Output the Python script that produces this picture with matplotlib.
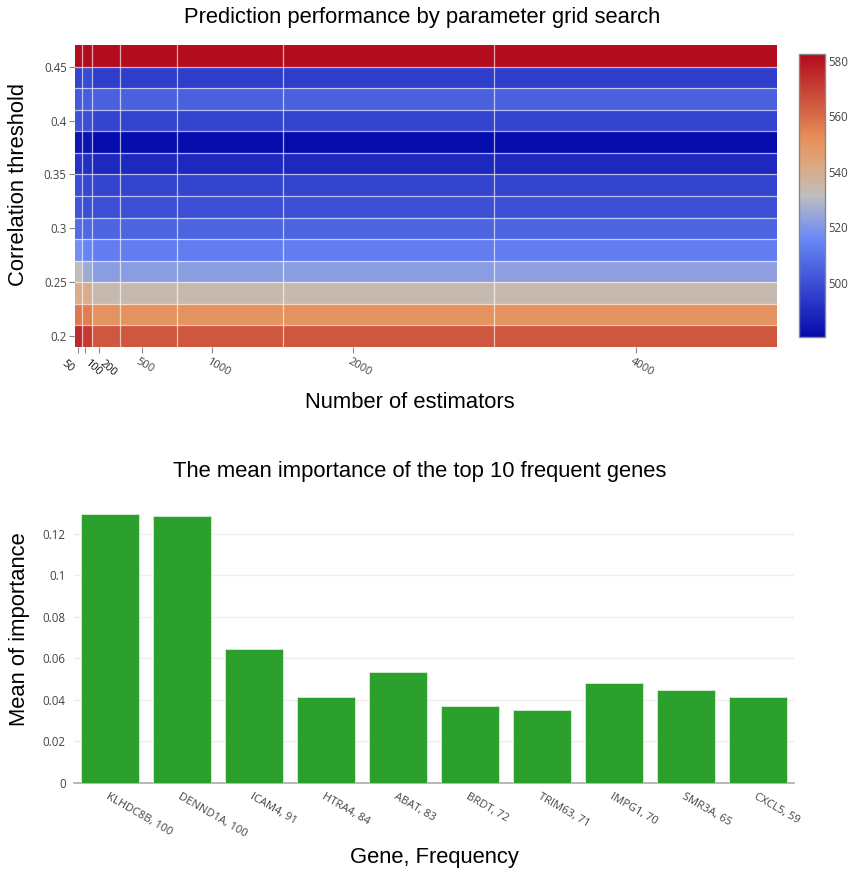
import matplotlib
matplotlib.use('Agg')
import matplotlib.pyplot as plt
from matplotlib.colors import LinearSegmentedColormap
import numpy as np

# grid search results: rows = correlation threshold, cols = number of estimators
n_estimators = [50, 100, 200, 500, 1000, 2000, 4000]
corr_threshold = [0.20, 0.22, 0.24, 0.26, 0.28, 0.30, 0.32,
                  0.34, 0.36, 0.38, 0.40, 0.42, 0.44, 0.46]
scores = [
    [575, 571, 565, 565, 565, 565, 565],
    [557, 556, 551, 551, 551, 551, 551],
    [541, 540, 534, 534, 534, 534, 534],
    [532, 526, 522, 522, 522, 522, 523],
    [518, 515, 513, 513, 513, 513, 513],
    [508, 507, 506, 506, 506, 506, 506],
    [502, 500, 500, 500, 500, 500, 500],
    [500, 498, 497, 497, 497, 497, 497],
    [492, 491, 489, 489, 489, 489, 489],
    [484, 483, 481, 481, 481, 481, 481],
    [501, 500, 497, 497, 497, 497, 497],
    [503, 504, 505, 505, 505, 505, 505],
    [497, 499, 495, 495, 495, 495, 495],
    [582, 582, 582, 582, 582, 582, 582],
]
cbar_ticks = [500, 520, 540, 560, 580]
# the three smallest estimator counts are crowded, label them separately
small_xticks = {50: 'right', 100: 'left', 200: 'left'}

# top 10 genes and their mean importance
genes = ['KLHDC8B, 100', 'DENND1A, 100', 'ICAM4, 91', 'HTRA4, 84', 'ABAT, 83',
         'BRDT, 72', 'TRIM63, 71', 'IMPG1, 70', 'SMR3A, 65', 'CXCL5, 59']
importance = [0.1298, 0.1286, 0.0647, 0.0415, 0.0536,
              0.0372, 0.0352, 0.0480, 0.0446, 0.0412]
imp_ticks = [0, 0.02, 0.04, 0.06, 0.08, 0.1, 0.12]

plt.rcParams['font.family'] = ['Liberation Sans', 'DejaVu Sans']

W, H = 853, 873
fig = plt.figure(figsize=(W / 100, H / 100), dpi=100)


def box(left, top, right, bottom):
    # pixel box -> figure fraction rect
    return [left / W, 1 - bottom / H, (right - left) / W, (bottom - top) / H]


def ftext(x, y, s, **kw):
    fig.text(x / W, 1 - y / H, s, ha='center', va='center', **kw)


def edges(v):
    v = np.asarray(v, dtype=float)
    mid = (v[1:] + v[:-1]) / 2
    return np.concatenate([[v[0] - (v[1] - v[0]) / 2], mid,
                           [v[-1] + (v[-1] - v[-2]) / 2]])


rdbu = LinearSegmentedColormap.from_list('plotly_rdbu', [
    (0.0, (5/255, 10/255, 172/255)),
    (0.35, (106/255, 137/255, 247/255)),
    (0.5, (190/255, 190/255, 190/255)),
    (0.6, (220/255, 170/255, 132/255)),
    (0.7, (230/255, 145/255, 90/255)),
    (1.0, (178/255, 10/255, 28/255)),
])

tick_gray = '#444444'

# ---- heatmap ----
ax1 = fig.add_axes(box(75, 45.2, 776.7, 346.8))
xe = edges(n_estimators)
ye = edges(corr_threshold)
z = np.array(scores, dtype=float)
mesh = ax1.pcolormesh(xe, ye, z, cmap=rdbu, vmin=z.min() - 0.5, vmax=z.max() + 0.5)
for xv in xe[1:-1]:
    ax1.axvline(xv, color='white', alpha=0.65, lw=0.9)
for yv in ye[1:-1]:
    ax1.axhline(yv, color='white', alpha=0.65, lw=0.9)
ax1.set_xlim(28, xe[-1])
ax1.set_ylim(ye[0], ye[-1])
for s in ax1.spines.values():
    s.set_visible(False)

ax1.set_yticks([0.2, 0.25, 0.3, 0.35, 0.4, 0.45])
ax1.set_yticklabels(['0.2', '0.25', '0.3', '0.35', '0.4', '0.45'],
                    family='Open Sans', fontsize=8.3, color=tick_gray)
ax1.tick_params(axis='y', length=4, width=0.8, color='#888888', pad=2)
ax1.set_xticks(n_estimators)
ax1.set_xticklabels([])
ax1.tick_params(axis='x', length=4, width=0.8, color='#888888', pad=2)
for xv in n_estimators:
    if xv in small_xticks:
        ax1.annotate(str(xv), (xv, 0), xycoords=('data', 'axes fraction'),
                     xytext=(-1.5, -8), textcoords='offset points',
                     ha=small_xticks[xv], va='top', rotation=-42,
                     fontsize=7.8, color='#111111', family='Open Sans')
    else:
        ax1.annotate(str(xv), (xv, 0), xycoords=('data', 'axes fraction'),
                     xytext=(-1.5, -7), textcoords='offset points',
                     ha='left', va='top', rotation=-30, rotation_mode='anchor',
                     fontsize=8, color=tick_gray, family='Open Sans')

ftext(422, 17, 'Prediction performance by parameter grid search', fontsize=15.8)
ftext(410, 403, 'Number of estimators', fontsize=15.8)
ftext(18.5, 184, 'Correlation threshold', fontsize=15.8, rotation=90)

cax = fig.add_axes(box(799, 54, 825.5, 337))
cb = fig.colorbar(mesh, cax=cax, ticks=cbar_ticks)
cb.outline.set_edgecolor('#888888')
cb.outline.set_linewidth(1)
cax.tick_params(length=0, labelsize=8.3, labelcolor=tick_gray, pad=2)
for t in cax.get_yticklabels():
    t.set_family('Open Sans')

# ---- bar chart ----
ax2 = fig.add_axes(box(74, 500.3, 794, 782.7))
pos = np.arange(len(genes))
ax2.bar(pos, importance, width=0.8, color='#2ca02c',
        edgecolor='#d8ecd8', linewidth=0.6, zorder=3)
ax2.set_xlim(-0.5, len(genes) - 0.5)
ax2.set_ylim(0, max(importance) * 1.05)
ax2.set_yticks(imp_ticks)
ax2.set_yticklabels(['0', '0.02', '0.04', '0.06', '0.08', '0.1', '0.12'],
                    family='Open Sans', fontsize=8.3, color=tick_gray)
ax2.grid(axis='y', color='#eeeeee', lw=1, zorder=0)
ax2.tick_params(axis='y', length=0, pad=6)
ax2.set_xticks(pos)
ax2.set_xticklabels(genes, rotation=-30, ha='left', va='top',
                    rotation_mode='anchor', family='Open Sans',
                    fontsize=8, color=tick_gray)
ax2.tick_params(axis='x', length=0, pad=6)
for k in ['top', 'right', 'left']:
    ax2.spines[k].set_visible(False)
ax2.spines['bottom'].set_color('#aaaaaa')
ax2.spines['bottom'].set_linewidth(1.2)

ftext(420, 472, 'The mean importance of the top 10 frequent genes', fontsize=15.8)
ftext(434, 857, 'Gene, Frequency', fontsize=15.8)
ftext(19.5, 629, 'Mean of importance', fontsize=15.8, rotation=90)

fig.savefig('out.png', dpi=100)
